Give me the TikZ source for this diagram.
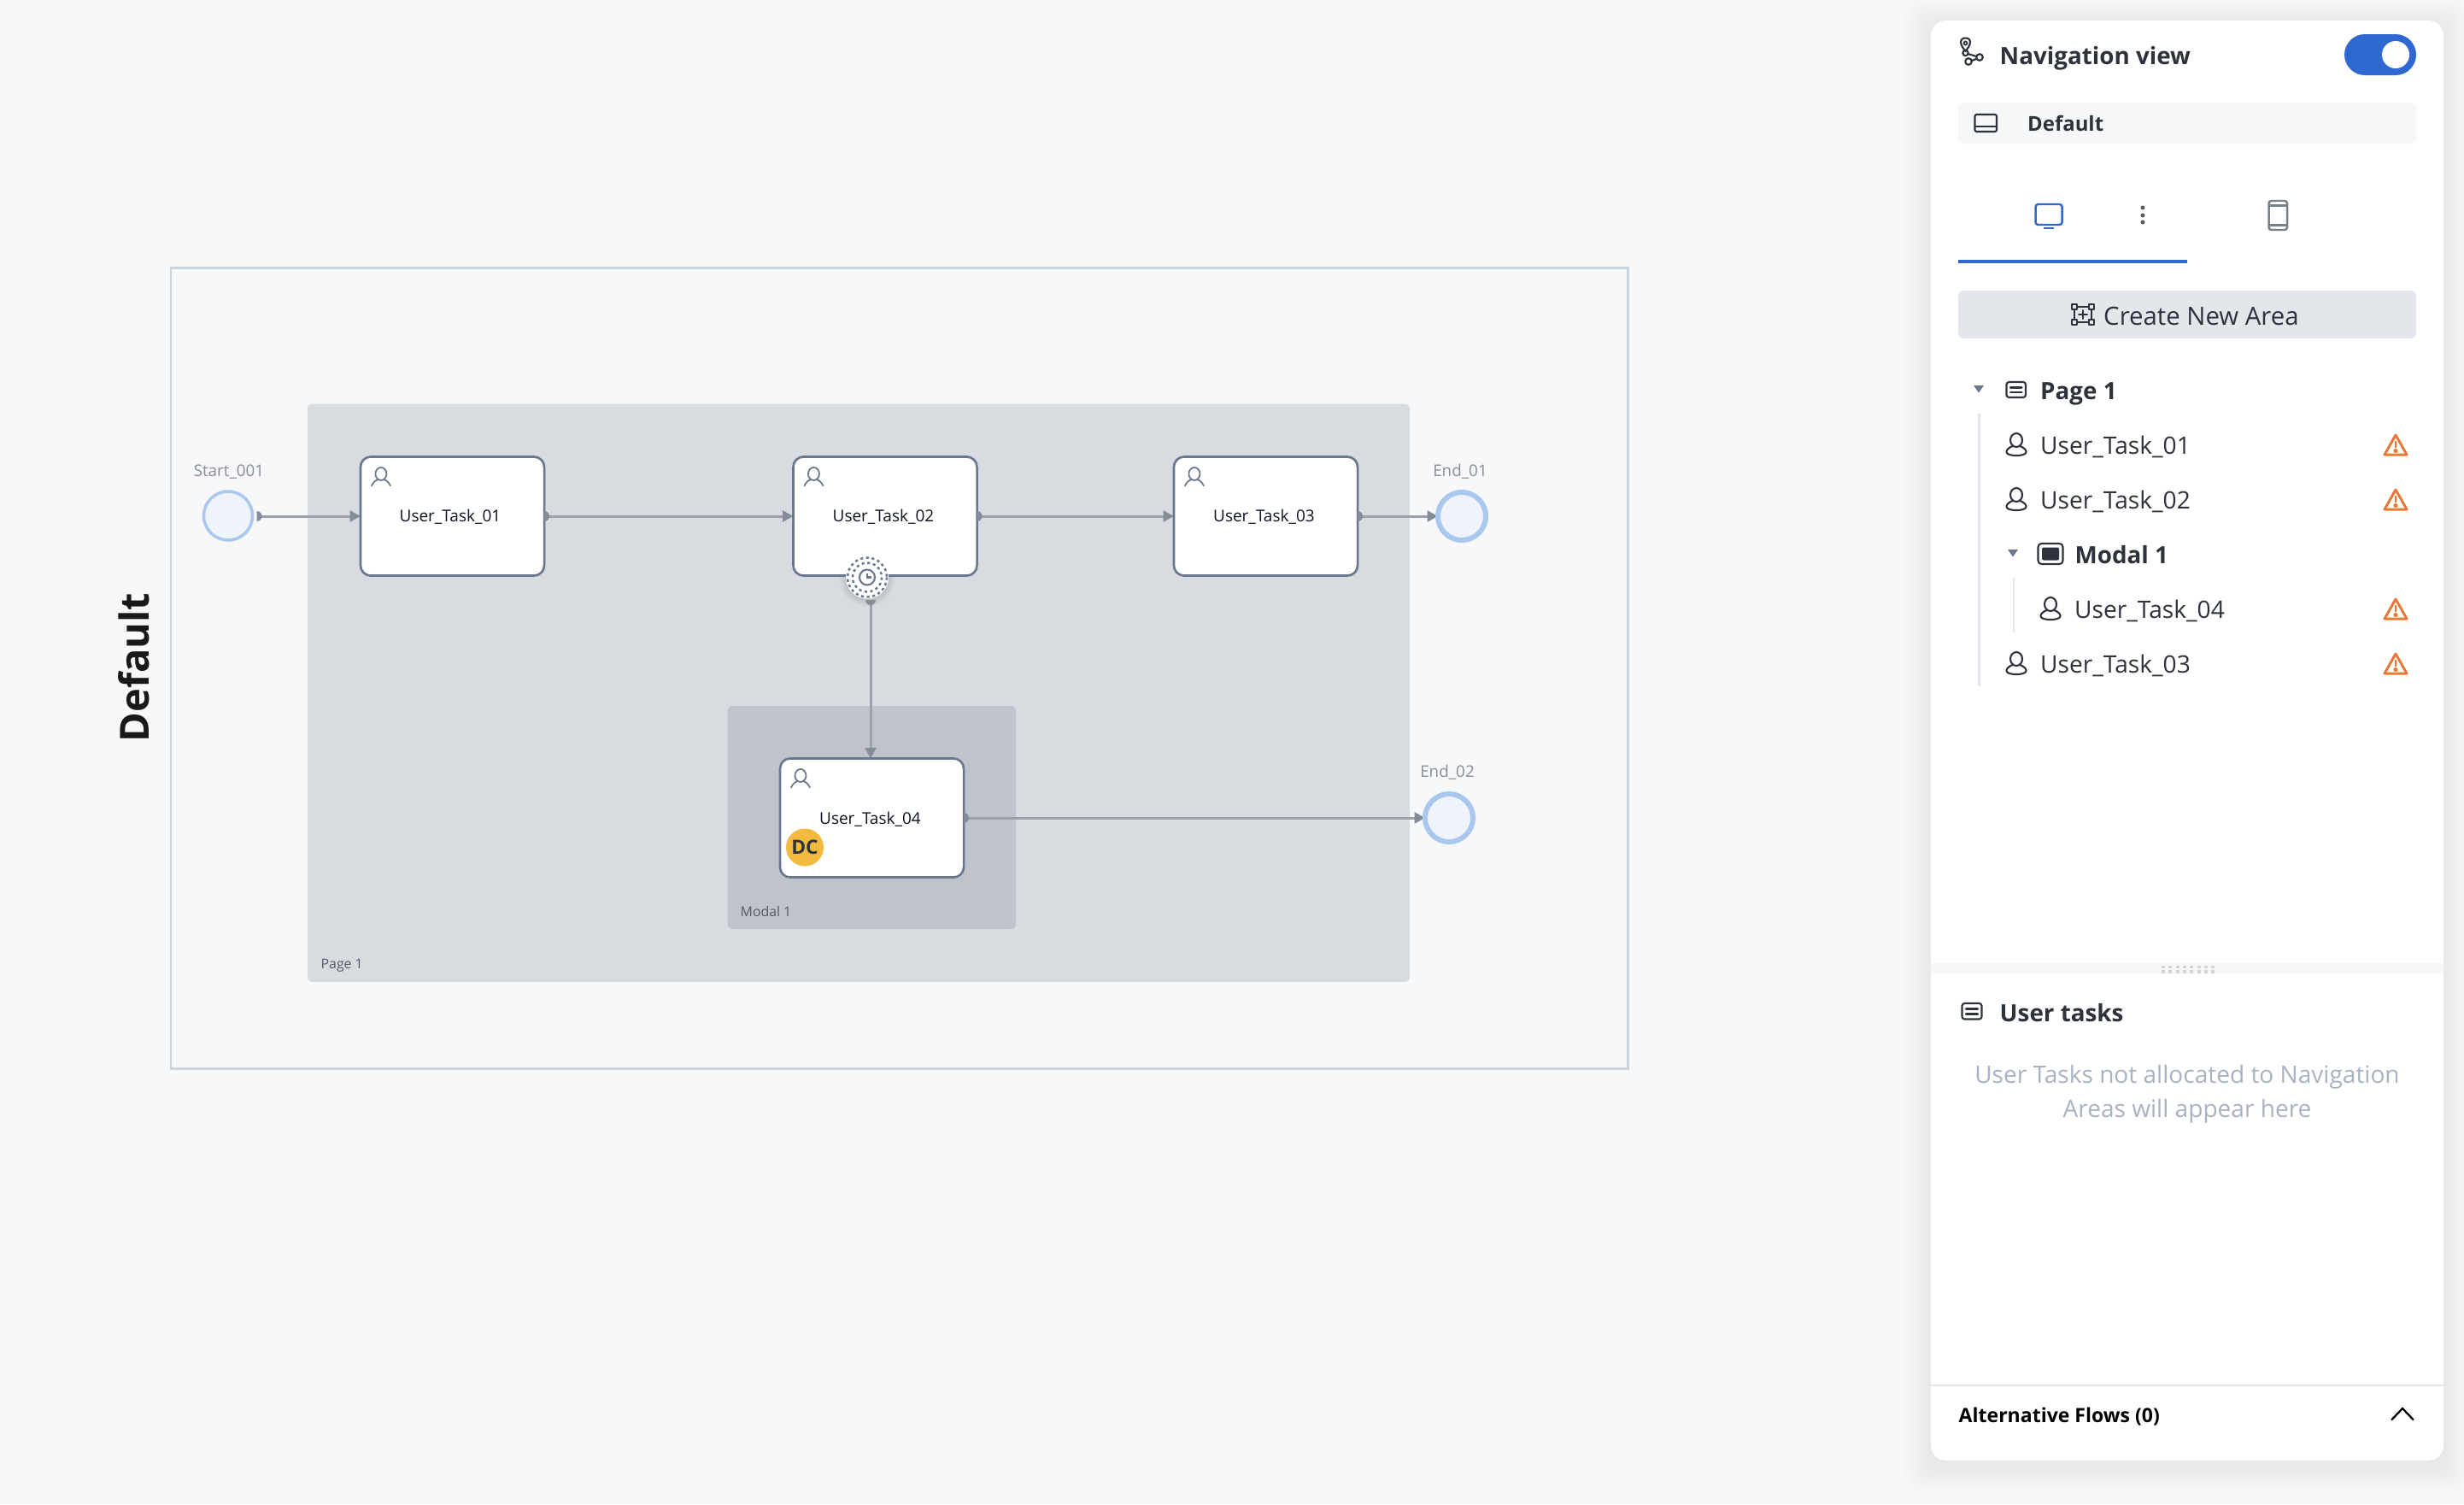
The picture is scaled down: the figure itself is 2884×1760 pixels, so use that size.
\documentclass[tikz,border=0pt]{standalone}
\usepackage{fontspec}
\setmainfont{Open Sans}
\usetikzlibrary{arrows.meta,calc}
\definecolor{bgc}{HTML}{F7F8FA}
\definecolor{pagec}{HTML}{D8DBE0}
\definecolor{modalc}{HTML}{BFC3CC}
\definecolor{framec}{HTML}{CDD3DC}
\definecolor{flowc}{HTML}{9BA0AB}
\definecolor{tipc}{HTML}{858B98}
\definecolor{taskb}{HTML}{6B778C}
\definecolor{evfill}{HTML}{EFF3FB}
\definecolor{evline}{HTML}{AAC8EE}
\definecolor{ink}{HTML}{2E323B}
\definecolor{blue1}{HTML}{2F68D0}
\definecolor{orange1}{HTML}{E87A35}
\definecolor{treeline}{HTML}{E1E5EC}
\definecolor{softbar}{HTML}{F6F7F9}
\definecolor{btn}{HTML}{E3E6EB}
\definecolor{graytxt}{HTML}{A9B2C3}
\definecolor{lblc}{HTML}{8A8D94}
\definecolor{arealblc}{HTML}{555964}
\definecolor{tri}{HTML}{6B778C}
\definecolor{phonec}{HTML}{777F8A}
\definecolor{gold}{HTML}{F4B93F}
\definecolor{tasktxt}{HTML}{0E1322}
\pgfdeclarelayer{bgl}\pgfdeclarelayer{edges}
\pgfsetlayers{bgl,edges,main}
\newcommand{\fs}[1]{\fontsize{#1}{#1}\selectfont}
\tikzset{
  x=0.01cm,y=-0.01cm,
  flow/.style={draw=flowc,line width=0.85pt,-{Triangle[length=3.5pt,width=3.6pt,color=tipc]}},
  task/.style={draw=taskb,fill=white,line width=0.75pt,rounded corners=0.12cm,minimum width=2.15cm,minimum height=1.39cm,inner sep=0pt,outer sep=0pt},
  startev/.style={circle,draw=evline,fill=evfill,line width=1pt,minimum size=0.57cm,inner sep=0pt,outer sep=0pt},
  endev/.style={circle,draw=evline,fill=evfill,line width=1.7pt,minimum size=0.56cm,inner sep=0pt,outer sep=0pt},
  tasklbl/.style={anchor=base,inner sep=0pt,font=\fs{5.4},text=tasktxt},
  evlbl/.style={anchor=base,inner sep=0pt,font=\fs{5.35},text=lblc},
  arealbl/.style={anchor=base west,inner sep=0pt,font=\fs{4.5},text=arealblc},
  treetxt/.style={anchor=base west,inner sep=0pt,font=\fs{8},text=ink},
  treebold/.style={anchor=base west,inner sep=0pt,font=\bfseries\fs{7.9},text=ink},
  icon/.style={draw=ink,line width=0.6pt,line join=round,line cap=round},
  taskuser/.pic={
    \draw[draw=taskb,line width=0.5pt] (0,0) ellipse [x radius=6.5,y radius=7.5];
    \draw[draw=taskb,line width=0.5pt,line cap=round] (-11,14) .. controls (-9,9) and (-5,7) .. (-3,6.5);
    \draw[draw=taskb,line width=0.5pt,line cap=round] (11,14) .. controls (9,9) and (5,7) .. (3,6.5);
  },
  listuser/.pic={
    \draw[icon] (0,0) ellipse [x radius=7,y radius=8];
    \draw[icon] (-4.5,7) .. controls (-9,9) and (-11.5,11) .. (-11.5,14) .. controls (-11.5,17) and (-5,18) .. (0,18) .. controls (5,18) and (11.5,17) .. (11.5,14) .. controls (11.5,11) and (9,9) .. (4.5,7);
  },
  warnicon/.pic={
    \draw[draw=orange1,line width=0.85pt,line join=round] (0,-12) -- (13,11) -- (-13,11) -- cycle;
    \draw[draw=orange1,line width=0.8pt] (0,-5) -- (0,3);
    \fill[orange1] (0,6.5) circle (2.6);
  },
}
\newcommand{\srcdot}[3]{\fill[tipc] #1 ++(#2:6) arc [start angle=#2,end angle=#3,radius=6] -- cycle;}
\begin{document}
\begin{tikzpicture}
\useasboundingbox (0,0) rectangle (2884,1760);
\begin{pgfonlayer}{bgl}
  \fill[bgc] (0,0) rectangle (2884,1760);
  \draw[framec,line width=0.85pt] (200,313) rectangle (1905,1250);
  \fill[pagec,rounded corners=0.06cm] (360,472.5) rectangle (1650,1149);
  \fill[modalc,rounded corners=0.06cm] (851.5,826) rectangle (1189,1087);
  % panel shadow
  \foreach \g in {2,4,...,32}{
    \fill[black,opacity=0.0035,rounded corners=0.18cm] (2260-\g,24-\g+6) rectangle (2860+\g,1709+\g+6);
  }
\end{pgfonlayer}

% canvas nodes
\node[startev] (start) at (267,603.5) {};
\node[task] (t1) at (529.5,604) {};
\node[task] (t2) at (1036,604) {};
\node[task] (t3) at (1481.5,604) {};
\node[task] (t4) at (1020.5,957) {};
\node[endev] (end1) at (1711,604) {};
\node[endev] (end2) at (1696,957) {};
\node[tasklbl] (t1l) at (527,610) {User\_Task\_01};
\node[tasklbl] (t2l) at (1034,610) {User\_Task\_02};
\node[tasklbl] (t3l) at (1479.5,610) {User\_Task\_03};
\node[tasklbl] (t4l) at (1018.5,964) {User\_Task\_04};
\node[evlbl] (startl) at (268,557) {Start\_001};
\node[evlbl] (end1l) at (1709,557) {End\_01};
\node[evlbl] (end2l) at (1694,909.5) {End\_02};
\node[arealbl] (modall) at (866,1072.5) {Modal 1};
\node[arealbl] (pagel) at (375,1133) {Page 1};
\node[anchor=base,rotate=90,inner sep=0pt,font=\bfseries\fs{13.35},text=black!90] (lane) at (174,781) {Default};

\pic at ($(t1.north west)+(24,20)$) {taskuser};
\pic at ($(t2.north west)+(24,20)$) {taskuser};
\pic at ($(t3.north west)+(24,20)$) {taskuser};
\pic at ($(t4.north west)+(24,20)$) {taskuser};

% timer
\begin{pgfonlayer}{edges}
 \foreach \g in {1,2,...,8}{\fill[black,opacity=0.012] (1015,677) circle ({25+\g});}
\end{pgfonlayer}
\node[circle,fill=white,minimum size=0.5cm,inner sep=0pt] (timer) at (1015,675.5) {};
\draw[draw=taskb,line width=0.7pt,dash pattern=on 0.9pt off 1pt] (timer.center) circle (23);
\draw[draw=taskb,line width=0.7pt,dash pattern=on 0.9pt off 1pt] (timer.center) circle (17);
\draw[draw=taskb,line width=0.6pt] (timer.center) circle (9);
\draw[draw=taskb,line width=0.6pt] ($(timer.center)+(0,-5)$) -- (timer.center) -- ($(timer.center)+(5,0)$);

% DC badge
\node[circle,fill=gold,minimum size=0.44cm,inner sep=0pt] (dc) at (942,991.5) {};
\node[anchor=base,inner sep=0pt,font=\bfseries\fs{6.5},text=ink] (dct) at (942,999) {DC};

% connectors
\coordinate (tsrc) at (1019,703);
\coordinate (startsrc) at ($(start.east)+(5,0.5)$);
\begin{pgfonlayer}{edges}
  \draw[flow] (startsrc) -- (startsrc -| t1.west);
  \draw[flow] (t1.east) -- (t2.west);
  \draw[flow] (t2.east) -- (t3.west);
  \draw[flow] (t3.east) -- (end1.west);
  \draw[flow] (t4.east) -- (end2.west);
  \draw[flow] (tsrc) -- (tsrc |- t4.north);
\end{pgfonlayer}
\srcdot{(startsrc)}{-90}{90}
\srcdot{(t1.east)}{-90}{90}
\srcdot{(t2.east)}{-90}{90}
\srcdot{(t3.east)}{-90}{90}
\srcdot{(t4.east)}{-90}{90}
\fill[tipc] (tsrc) ++(-6,-1) arc [start angle=180,end angle=0,radius=6] -- cycle;

% panel
\fill[white,rounded corners=0.18cm] (2260,24) rectangle (2860,1709);
\fill[softbar] (2260,1127) rectangle (2860,1139);
\foreach \i in {0,...,7}{\foreach \j in {1129.5,1135}{\fill[black!17] ({2530+8.3*\i},\j) rectangle ({2534+8.3*\i},\j+3.6);}}
\draw[draw=black!10,line width=0.5pt] (2260,1621) -- (2860,1621);

% nav header
\node[anchor=base west,inner sep=0pt,font=\bfseries\fs{7.9},text=ink] (navt) at (2340,75) {Navigation view};
\draw[icon] (2300.5,60) .. controls (2296,54) and (2295,52) .. (2295,50) .. controls (2295,46) and (2297,44.5) .. (2300.5,44.5) .. controls (2304,44.5) and (2306,46) .. (2306,50) .. controls (2306,52) and (2305,54) .. (2300.5,60);
\draw[icon,line width=0.5pt] (2300.5,50.5) circle (2);
\draw[icon] (2300.5,62) circle (3.2) (2317,67) circle (3.8) (2304,72) circle (3.8);
\draw[icon] (2303.5,63) -- (2313.3,66) (2313.5,69) -- (2307.5,71);
\fill[blue1,rounded corners=0.24cm] (2744,40) rectangle (2828,88);
\fill[white] (2804,64) circle (16);

\fill[softbar,rounded corners=0.07cm] (2292,120) rectangle (2828,168);
\draw[icon,rounded corners=0.02cm] (2311.5,134) rectangle (2337,154);
\draw[icon] (2311.5,148) -- (2337,148);
\node[anchor=base west,inner sep=0pt,font=\bfseries\fs{6.8},text=ink] (deft) at (2372.5,153) {Default};

% tabs
\draw[blue1,line width=0.7pt,rounded corners=0.03cm] (2382.5,239) rectangle (2413.5,263);
\draw[blue1,line width=0.7pt] (2392,267) -- (2404,267);
\foreach \yy in {243,252,260}{\fill[ink!80] (2508,\yy) circle (2.5);}
\draw[phonec,line width=0.7pt,rounded corners=0.03cm] (2655.5,235) rectangle (2677,269);
\draw[phonec,line width=0.7pt] (2655.5,240.5) -- (2677,240.5) (2655.5,263.5) -- (2677,263.5);
\fill[blue1] (2292,304) rectangle (2560,308);

% create button
\fill[btn,rounded corners=0.07cm] (2292,340) rectangle (2828,396);
\node[treetxt,font=\fs{8.35}] (cna) at (2461.5,380) {Create New Area};
\draw[icon,line width=0.55pt] (2431,359) -- (2445,359) (2431,377) -- (2445,377) (2428,362) -- (2428,374) (2448,362) -- (2448,374);
\foreach \ax/\ay in {2428/359,2448/359,2428/377,2448/377}{\draw[icon,line width=0.55pt,fill=btn] (\ax-3,\ay-3) rectangle (\ax+3,\ay+3);}
\draw[icon,line width=0.55pt] (2433,368) -- (2443,368) (2438,363) -- (2438,373);

% tree
\fill[tri] (2310,451) -- (2322,451) -- (2316,459.5) -- cycle;
\draw[icon,rounded corners=0.03cm] (2348.5,447) rectangle (2371,465);
\draw[icon] (2353,453.5) -- (2366.5,453.5) (2353,459) -- (2366.5,459);
\node[treebold] (p1t) at (2387.5,467) {Page 1};
\draw[treeline,line width=0.6pt] (2316.5,484) -- (2316.5,803);
\draw[treeline,line width=0.6pt] (2357,676) -- (2357,740);

\node[treetxt] (i1) at (2387.5,531.5) {User\_Task\_01};
\node[treetxt] (i2) at (2387.5,595.5) {User\_Task\_02};
\fill[tri] (2350,643) -- (2362,643) -- (2356,651.5) -- cycle;
\draw[icon,rounded corners=0.04cm] (2385.5,636) rectangle (2414.5,660);
\fill[ink,rounded corners=0.02cm] (2390,640.5) rectangle (2410,655.5);
\node[treebold] (m1t) at (2428,659) {Modal 1};
\node[treetxt] (i4) at (2427.5,723.5) {User\_Task\_04};
\node[treetxt] (i3) at (2387.5,787.5) {User\_Task\_03};
\pic at (2360,515) {listuser};
\pic at (2360,579) {listuser};
\pic at (2400,707) {listuser};
\pic at (2360,771) {listuser};
\pic at (2804,521) {warnicon};
\pic at (2804,585) {warnicon};
\pic at (2804,713) {warnicon};
\pic at (2804,777) {warnicon};

% user tasks
\draw[icon,rounded corners=0.03cm] (2296.5,1174) rectangle (2319.5,1192.5);
\draw[icon] (2301,1180.5) -- (2315,1180.5) (2301,1186.5) -- (2315,1186.5);
\node[anchor=base west,inner sep=0pt,font=\bfseries\fs{7.9},text=ink] (utt) at (2340,1195) {User tasks};
\node[anchor=center,align=center,inner sep=0pt,font=\fontsize{7.98}{11.3}\selectfont,text=graytxt] (gt) at (2560,1280) {User Tasks not allocated to Navigation\\Areas will appear here};

% alt flows
\node[anchor=base west,inner sep=0pt,font=\bfseries\fs{6.55},text=black] (alt) at (2292,1664) {Alternative Flows (0)};
\draw[black,line width=0.65pt,line cap=round] (2799.5,1661) -- (2812,1648) -- (2824.5,1661);
\end{tikzpicture}
\end{document}
